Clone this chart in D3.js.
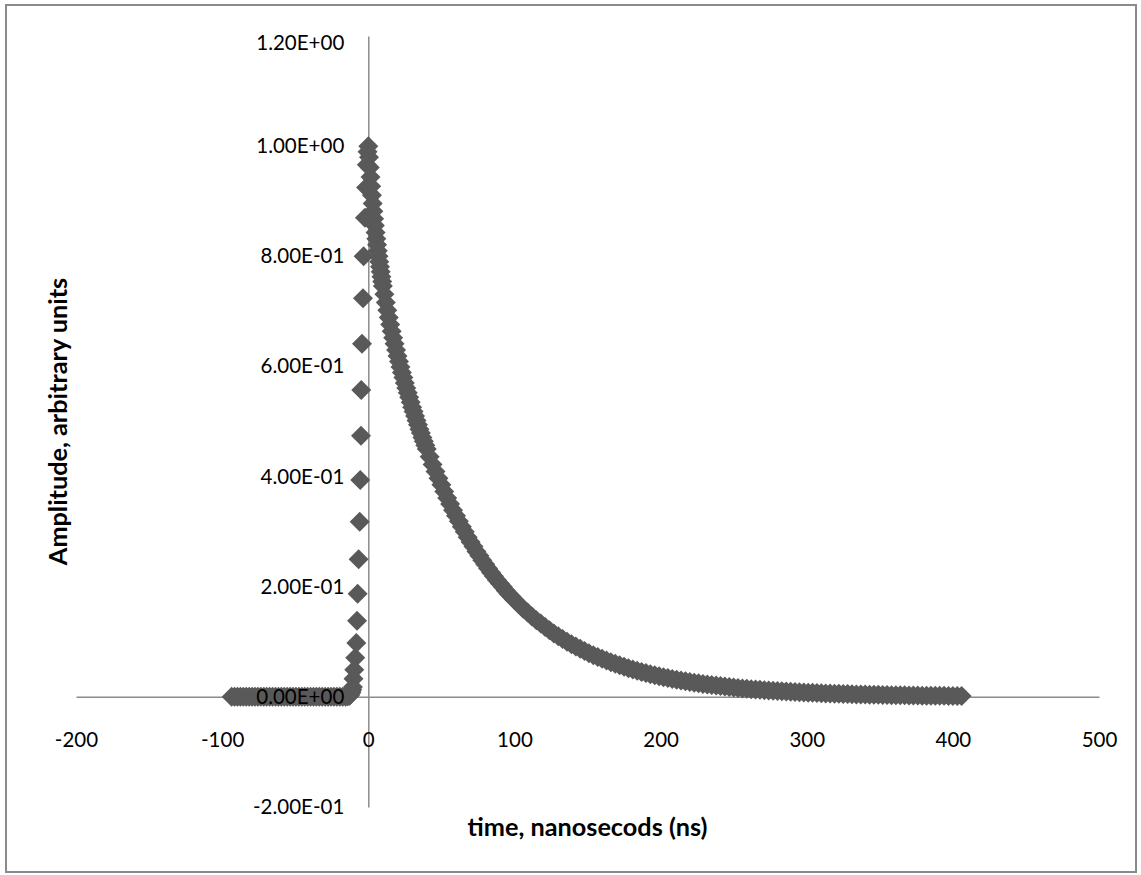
<!DOCTYPE html>
<html><head><meta charset="utf-8">
<script src="https://cdn.jsdelivr.net/npm/d3@7"></script>
<style>html,body{margin:0;padding:0;background:#fff;} svg{display:block;}</style>
</head><body>
<svg id="chart" width="1141" height="875"></svg>
<script>
// ---- data ----
const xTicks = [-200, -100, 0, 100, 200, 300, 400, 500];
const yTicks = [-0.2, 0, 0.2, 0.4, 0.6, 0.8, 1.0, 1.2];
const xTitle = "time, nanosecods (ns)";
const yTitle = "Amplitude, arbitrary units";

// flat pre-pulse baseline
const baselineTime = [-93.5,-91.5,-89.5,-87.5,-85.5,-83.5,-81.5,-79.5,-77.5,-75.5,-73.5,-71.5,-69.5,-67.5,-65.5,-63.5,-61.5,-59.5,-57.5,-55.5,-53.5,-51.5,-49.5,-47.5,-45.5,-43.5,-41.5,-39.5,-37.5,-35.5,-33.5,-31.5,-29.5,-27.5,-25.5,-23.5,-21.5,-19.5,-17.5,-15.5];
const baselineAmp  = [0,0,0,0,0,0,0,0,0,0,0,0,0,0,0,0,0,0,0,0,0,0,0,0,0,0,0,0,0,0,0,0,0,0,0,0,0,0,0,0];

// rising edge
const riseTime = [-14,-13,-12.5,-12,-11.5,-11,-10.5,-10.1,-9.6,-8.9,-8.2,-7.7,-7.3,-6.6,-5.9,-5.5,-5.0,-4.8,-4.3,-3.6,-3.2,-2.3,-1.5,-1.0,-0.5,0];
const riseAmp  = [0.001,0.002,0.003,0.006,0.009,0.013,0.018,0.033,0.049,0.071,0.098,0.138,0.187,0.250,0.318,0.394,0.474,0.557,0.641,0.724,0.800,0.870,0.925,0.966,0.990,1.000];

// decay
const decayTime = [
 0.5,1,1.5,2,2.5,3,3.5,4,4.5,5,5.5,6,6.5,7,7.5,8,8.5,9,9.5,10,
 11,12,13,14,15,16,17,18,19,20,21,22,23,24,25,26,27,28,29,30,31,32,33,34,35,36,37,38,39,40,
 42,44,46,48,50,52,54,56,58,60,62,64,66,68,70,72,74,76,78,80,82,84,86,88,90,92,94,96,98,100,
 103,106,109,112,115,118,121,124,127,130,133,136,139,142,145,148,151,154,157,160,
 163,166,169,172,175,178,181,184,187,190,193,196,199,202,205,208,211,214,217,220,
 223,226,229,232,235,238,241,244,247,250,253,256,259,262,265,268,271,274,277,280,
 283,286,289,292,295,298,301,304,307,310,313,316,319,322,325,328,331,334,337,340,
 343,346,349,352,355,358,361,364,367,370,373,376,379,382,385,388,391,394,397,400,403,406];
const decayAmp = [
 0.980,0.961,0.944,0.927,0.911,0.896,0.882,0.868,0.856,0.843,0.832,0.821,0.810,0.800,0.790,0.781,0.772,0.763,0.754,0.746,
 0.731,0.716,0.702,0.689,0.676,0.664,0.652,0.641,0.630,0.619,0.609,0.599,0.589,0.580,0.570,0.561,0.552,0.544,0.535,0.526,0.518,0.510,0.502,0.494,0.486,0.479,0.471,0.464,0.457,0.450,
 0.436,0.422,0.409,0.397,0.385,0.373,0.361,0.350,0.339,0.329,0.319,0.309,0.300,0.290,0.281,0.273,0.264,0.256,0.248,0.241,0.233,0.226,0.219,0.212,0.206,0.200,0.193,0.187,0.182,0.176,
 0.168,0.160,0.153,0.146,0.139,0.133,0.127,0.121,0.115,0.110,0.105,0.100,0.0957,0.0913,0.0872,0.0832,0.0794,0.0757,0.0723,0.0690,
 0.0658,0.0628,0.0599,0.0572,0.0545,0.0520,0.0497,0.0474,0.0452,0.0432,0.0412,0.0393,0.0375,0.0358,0.0341,0.0326,0.0311,0.0297,0.0283,0.0270,
 0.0258,0.0246,0.0235,0.0224,0.0214,0.0204,0.0195,0.0186,0.0177,0.0169,0.0161,0.0154,0.0147,0.0140,0.0134,0.0128,0.0122,0.0116,0.0111,0.0106,
 0.0101,0.0096,0.0092,0.0088,0.0084,0.0080,0.0076,0.0073,0.0069,0.0066,0.0063,0.0060,0.0058,0.0055,0.0052,0.0050,0.0048,0.0045,0.0043,0.0041,
 0.0040,0.0038,0.0036,0.0034,0.0033,0.0031,0.0030,0.0028,0.0027,0.0026,0.0025,0.0024,0.0022,0.0021,0.0020,0.0020,0.0019,0.0018,0.0017,0.0016,0.0015,0.0015];

// ---- drawing ----
const FONT = "Lato, 'Liberation Sans', Arial, sans-serif";
const svg = d3.select("#chart");

svg.append("rect")
  .attr("x", 6).attr("y", 5).attr("width", 1130).attr("height", 867)
  .attr("fill", "#fff").attr("stroke", "#8a8a8a").attr("stroke-width", 2);

const x = d3.scaleLinear().domain([-200, 500]).range([76, 1099]);
const y = d3.scaleLinear().domain([-0.2, 1.2]).range([807, 36]);

const expFmt = d => {
  const [m, e] = d.toExponential(2).split("e");
  return m + "E" + e[0] + e.slice(1).padStart(2, "0");
};

// axis lines (beneath markers)
svg.append("g").attr("transform", `translate(0,${y(0)})`)
  .call(d3.axisBottom(x).tickValues(xTicks).tickSize(0).tickSizeOuter(0).tickFormat(""))
  .call(g => g.select(".domain").attr("stroke", "#8c8c8c").attr("stroke-width", 1.5));
svg.append("g").attr("transform", `translate(${x(0)},0)`)
  .call(d3.axisLeft(y).tickValues(yTicks).tickSize(0).tickSizeOuter(0).tickFormat(""))
  .call(g => g.select(".domain").attr("stroke", "#8c8c8c").attr("stroke-width", 1.5));

// markers
const points = [];
baselineTime.forEach((t, i) => points.push({t, a: baselineAmp[i]}));
riseTime.forEach((t, i) => points.push({t, a: riseAmp[i]}));
decayTime.forEach((t, i) => points.push({t, a: decayAmp[i]}));

svg.append("g").selectAll("path").data(points).join("path")
  .attr("transform", d => `translate(${x(d.t)},${y(d.a)}) rotate(45)`)
  .attr("d", d3.symbol(d3.symbolSquare, 200))
  .attr("fill", "#595959");

// tick labels (above markers)
svg.append("g").attr("transform", `translate(0,${y(0)})`)
  .call(d3.axisBottom(x).tickValues(xTicks).tickSize(0).tickPadding(36).tickFormat(d => String(d)))
  .call(g => g.select(".domain").remove())
  .attr("font-family", FONT).attr("font-size", 20.5);
svg.append("g").attr("transform", `translate(${x(0)},0)`)
  .call(d3.axisLeft(y).tickValues(yTicks).tickSize(0).tickPadding(24).tickFormat(expFmt))
  .call(g => g.select(".domain").remove())
  .call(g => g.selectAll(".tick").filter(d => d === 1.2).select("text").attr("dy", "0.65em"))
  .attr("font-family", FONT).attr("font-size", 20.5);

// axis titles
const xt = svg.append("text")
  .attr("x", (x.range()[0] + x.range()[1]) / 2).attr("y", 836)
  .attr("text-anchor", "middle").attr("font-family", FONT)
  .attr("font-weight", "bold").attr("font-size", 22).text(xTitle);
const titleSize = 22 * 240 / xt.node().getComputedTextLength();
xt.attr("font-size", titleSize);
svg.append("text")
  .attr("transform", `translate(67,${(y.range()[0] + y.range()[1]) / 2}) rotate(-90)`)
  .attr("text-anchor", "middle").attr("font-family", FONT)
  .attr("font-weight", "bold").attr("font-size", titleSize).text(yTitle);
</script>
</body></html>
